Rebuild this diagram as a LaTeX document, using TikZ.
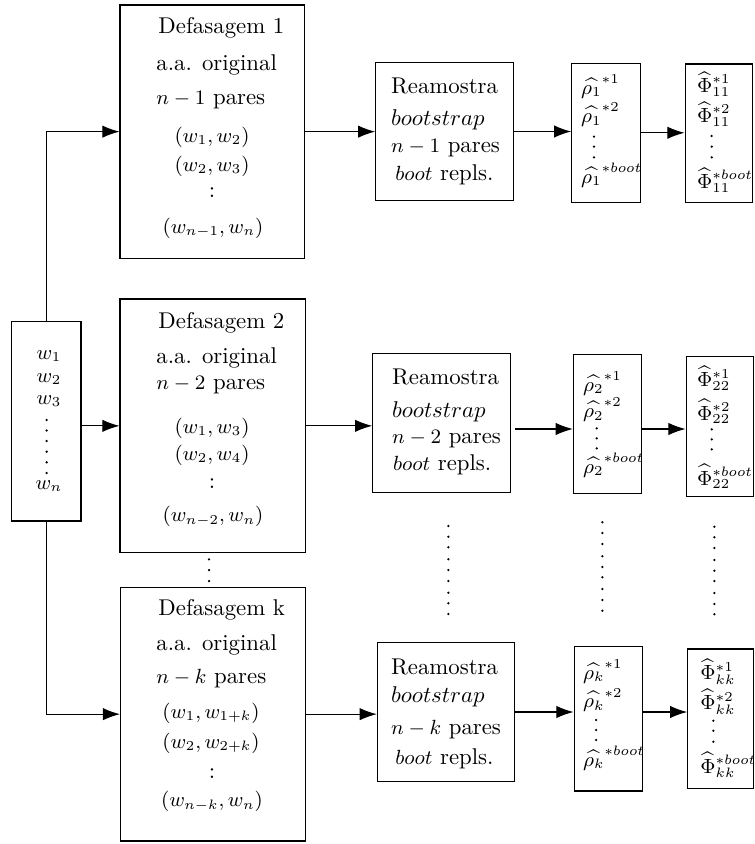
\documentclass[tikz,border=0pt]{standalone}
\usetikzlibrary{arrows.meta,fit}
\newcommand{\sm}[1]{{\fontsize{9}{11}\selectfont$#1$}}
\begin{document}
\begin{tikzpicture}[x=0.4386pt,y=-0.4386pt,
  box/.style={draw,line width=0.45pt,inner sep=0pt},
  arr/.style={line width=0.45pt,-{Latex[length=7.5pt,width=5.4pt]}},
  ln/.style={inner sep=0pt,anchor=west},
  cn/.style={inner sep=0pt,anchor=center},
  mth/.style={font=\fontsize{9}{11}\selectfont}]
\useasboundingbox (0,0) rectangle (754,844);
% boxes
\node[box,fit={(11.7,321.7)(81,521)}] (w) {};
\node[box,fit={(120,5)(304.5,258.3)}] (d1) {};
\node[box,fit={(120,299)(305.3,552.7)}] (d2) {};
\node[box,fit={(120.5,587.3)(305.7,841)}] (dk) {};
\node[box,fit={(375.7,62.3)(513.3,200.7)}] (r1) {};
\node[box,fit={(372.7,353.3)(510.5,492.3)}] (r2) {};
\node[box,fit={(377.3,642.3)(514.3,781.7)}] (rk) {};
\node[box,fit={(571.7,63.3)(640,202.3)}] (p1) {};
\node[box,fit={(573.3,354.3)(641.7,493.3)}] (p2) {};
\node[box,fit={(574,646.7)(642.7,791)}] (pk) {};
\node[box,fit={(685,64)(752.5,202.3)}] (f1) {};
\node[box,fit={(686,356.7)(753,496.7)}] (f2) {};
\node[box,fit={(687.7,649)(753,788.3)}] (fk) {};
% connectors
\draw[arr] (w.north) |- (d1.west);
\draw[arr] (w.east |- d2.west) -- (d2.west);
\draw[arr] (w.south) |- (dk.west);
\draw[arr] (d1.east) -- (d1.east -| r1.west);
\draw[arr] (r1.east) -- (r1.east -| p1.west);
\draw[arr] (p1.east) -- (p1.east -| f1.west);
\coordinate (a2) at (515,429);
\draw[arr] (d2.east) -- (d2.east -| r2.west);
\draw[arr] (a2) -- (a2 -| p2.west);
\draw[arr] (p2.east |- a2) -- (a2 -| f2.west);
\draw[arr] (dk.east) -- (dk.east -| rk.west);
\draw[arr] (rk.east) -- (rk.east -| pk.west);
\draw[arr] (pk.east |- rk.east) -- (rk.east -| fk.west);
% w box
\node[cn,mth] (w1) at (49,356) {$w_1$};
\node[cn,mth] (w2) at (49,379) {$w_2$};
\node[cn,mth] (w3) at (49,401) {$w_3$};
\node[cn,mth] (wn) at (49,486) {$w_n$};
\foreach \y in {420,430.5,441,451.7,462.3,473}
  \fill (46.7,\y) circle[radius=0.55pt];
% D1
\node[ln] (d1a) at (158,28) {Defasagem 1};
\node[ln] (d1b) at (156,65) {a.a. original};
\node[ln] (d1c) at (156,100) {\sm{n-1} pares};
\node[cn,mth] (d1d) at (212,137) {$(w_1,w_2)$};
\node[cn,mth] (d1e) at (212,166) {$(w_2,w_3)$};
\node[cn] (d1f) at (212,193) {:};
\node[cn,mth] (d1g) at (213,228) {$(w_{n-1},w_n)$};
% D2
\node[ln] (d2a) at (158,323.3) {Defasagem 2};
\node[ln] (d2b) at (156,358.3) {a.a. original};
\node[ln] (d2c) at (156,385) {\sm{n-2} pares};
\node[cn,mth] (d2d) at (212,428.3) {$(w_1,w_3)$};
\node[cn,mth] (d2e) at (212,455) {$(w_2,w_4)$};
\node[cn] (d2f) at (212,483.3) {:};
\node[cn,mth] (d2g) at (213,516.7) {$(w_{n-2},w_n)$};
% Dk
\node[ln] (dka) at (158,610) {Defasagem k};
\node[ln] (dkb) at (156,645) {a.a. original};
\node[ln] (dkc) at (156,678.3) {\sm{n-k} pares};
\node[cn,mth] (dkd) at (211,713.3) {$(w_1,w_{1+k})$};
\node[cn,mth] (dke) at (211,743.3) {$(w_2,w_{2+k})$};
\node[cn] (dkf) at (212,773.3) {:};
\node[cn,mth] (dkg) at (212,801.7) {$(w_{n-k},w_n)$};
\foreach \y in {559.3,570,581}
  \fill (209,\y) circle[radius=0.55pt];
% Reamostra
\node[ln] (r1a) at (390.7,86) {Reamostra};
\node[ln] (r1b) at (390.7,120) {$bootstrap$};
\node[ln] (r1c) at (390.7,148.3) {\sm{n-1} pares};
\node[ln] (r1d) at (395,175) {\sm{boot} repls.};
\node[ln] (r2a) at (391.7,376.7) {Reamostra};
\node[ln] (r2b) at (391.7,411.7) {$bootstrap$};
\node[ln] (r2c) at (391.7,439.3) {\sm{n-2} pares};
\node[ln] (r2d) at (392.7,465) {\sm{boot} repls.};
\node[ln] (rka) at (390.7,666.7) {Reamostra};
\node[ln] (rkb) at (390.7,696.7) {$bootstrap$};
\node[ln] (rkc) at (390.7,730) {\sm{n-k} pares};
\node[ln] (rkd) at (395,758.3) {\sm{boot} repls.};
% rho
\node[ln,mth] (p1a) at (580.7,86.7) {$\widehat{\rho_1}^{*1}$};
\node[ln,mth] (p1b) at (580.7,115) {$\widehat{\rho_1}^{*2}$};
\node[ln,mth] (p1c) at (580.7,175) {$\widehat{\rho_1}^{*boot}$};
\foreach \y in {136.7,146.7,157.3} \fill (594,\y) circle[radius=0.55pt];
\node[ln,mth] (p2a) at (582.7,383.3) {$\widehat{\rho_2}^{*1}$};
\node[ln,mth] (p2b) at (582.7,410) {$\widehat{\rho_2}^{*2}$};
\node[ln,mth] (p2c) at (582.7,465) {$\widehat{\rho_2}^{*boot}$};
\foreach \y in {428.3,438.3,448.3} \fill (596.7,\y) circle[radius=0.55pt];
\node[ln,mth] (pka) at (582.7,671.7) {$\widehat{\rho_k}^{*1}$};
\node[ln,mth] (pkb) at (582.7,700) {$\widehat{\rho_k}^{*2}$};
\node[ln,mth] (pkc) at (582.7,758.3) {$\widehat{\rho_k}^{*boot}$};
\foreach \y in {720,730,740} \fill (596,\y) circle[radius=0.55pt];
% Phi
\node[ln,mth] (f1a) at (696.7,84) {$\widehat{\Phi}^{*1}_{11}$};
\node[ln,mth] (f1b) at (696.7,114) {$\widehat{\Phi}^{*2}_{11}$};
\node[ln,mth] (f1c) at (696.7,180) {$\widehat{\Phi}^{*boot}_{11}$};
\foreach \y in {136,146.7,157.3} \fill (711.7,\y) circle[radius=0.55pt];
\node[ln,mth] (f2a) at (696.7,378.3) {$\widehat{\Phi}^{*1}_{22}$};
\node[ln,mth] (f2b) at (696.7,411.7) {$\widehat{\Phi}^{*2}_{22}$};
\node[ln,mth] (f2c) at (696.7,476.7) {$\widehat{\Phi}^{*boot}_{22}$};
\foreach \y in {429.3,439.3,449.3} \fill (711.7,\y) circle[radius=0.55pt];
\node[ln,mth] (fka) at (700,671.7) {$\widehat{\Phi}^{*1}_{kk}$};
\node[ln,mth] (fkb) at (700,701.7) {$\widehat{\Phi}^{*2}_{kk}$};
\node[ln,mth] (fkc) at (700,765) {$\widehat{\Phi}^{*boot}_{kk}$};
\foreach \y in {720.7,730.7,741.7} \fill (713.3,\y) circle[radius=0.55pt];
% column dots
\foreach \y in {526,536.7,547.3,559.3,570,581,592.7,603.3,614}
  \fill (448.3,\y) circle[radius=0.55pt];
\foreach \y in {522.3,533,544,556.3,567,577.3,589,600,610.7}
  \fill (602.3,\y) circle[radius=0.55pt];
\foreach \y in {526.7,537.3,548,560,570.7,581,593,604,614.3}
  \fill (714.3,\y) circle[radius=0.55pt];
\end{tikzpicture}
\end{document}
